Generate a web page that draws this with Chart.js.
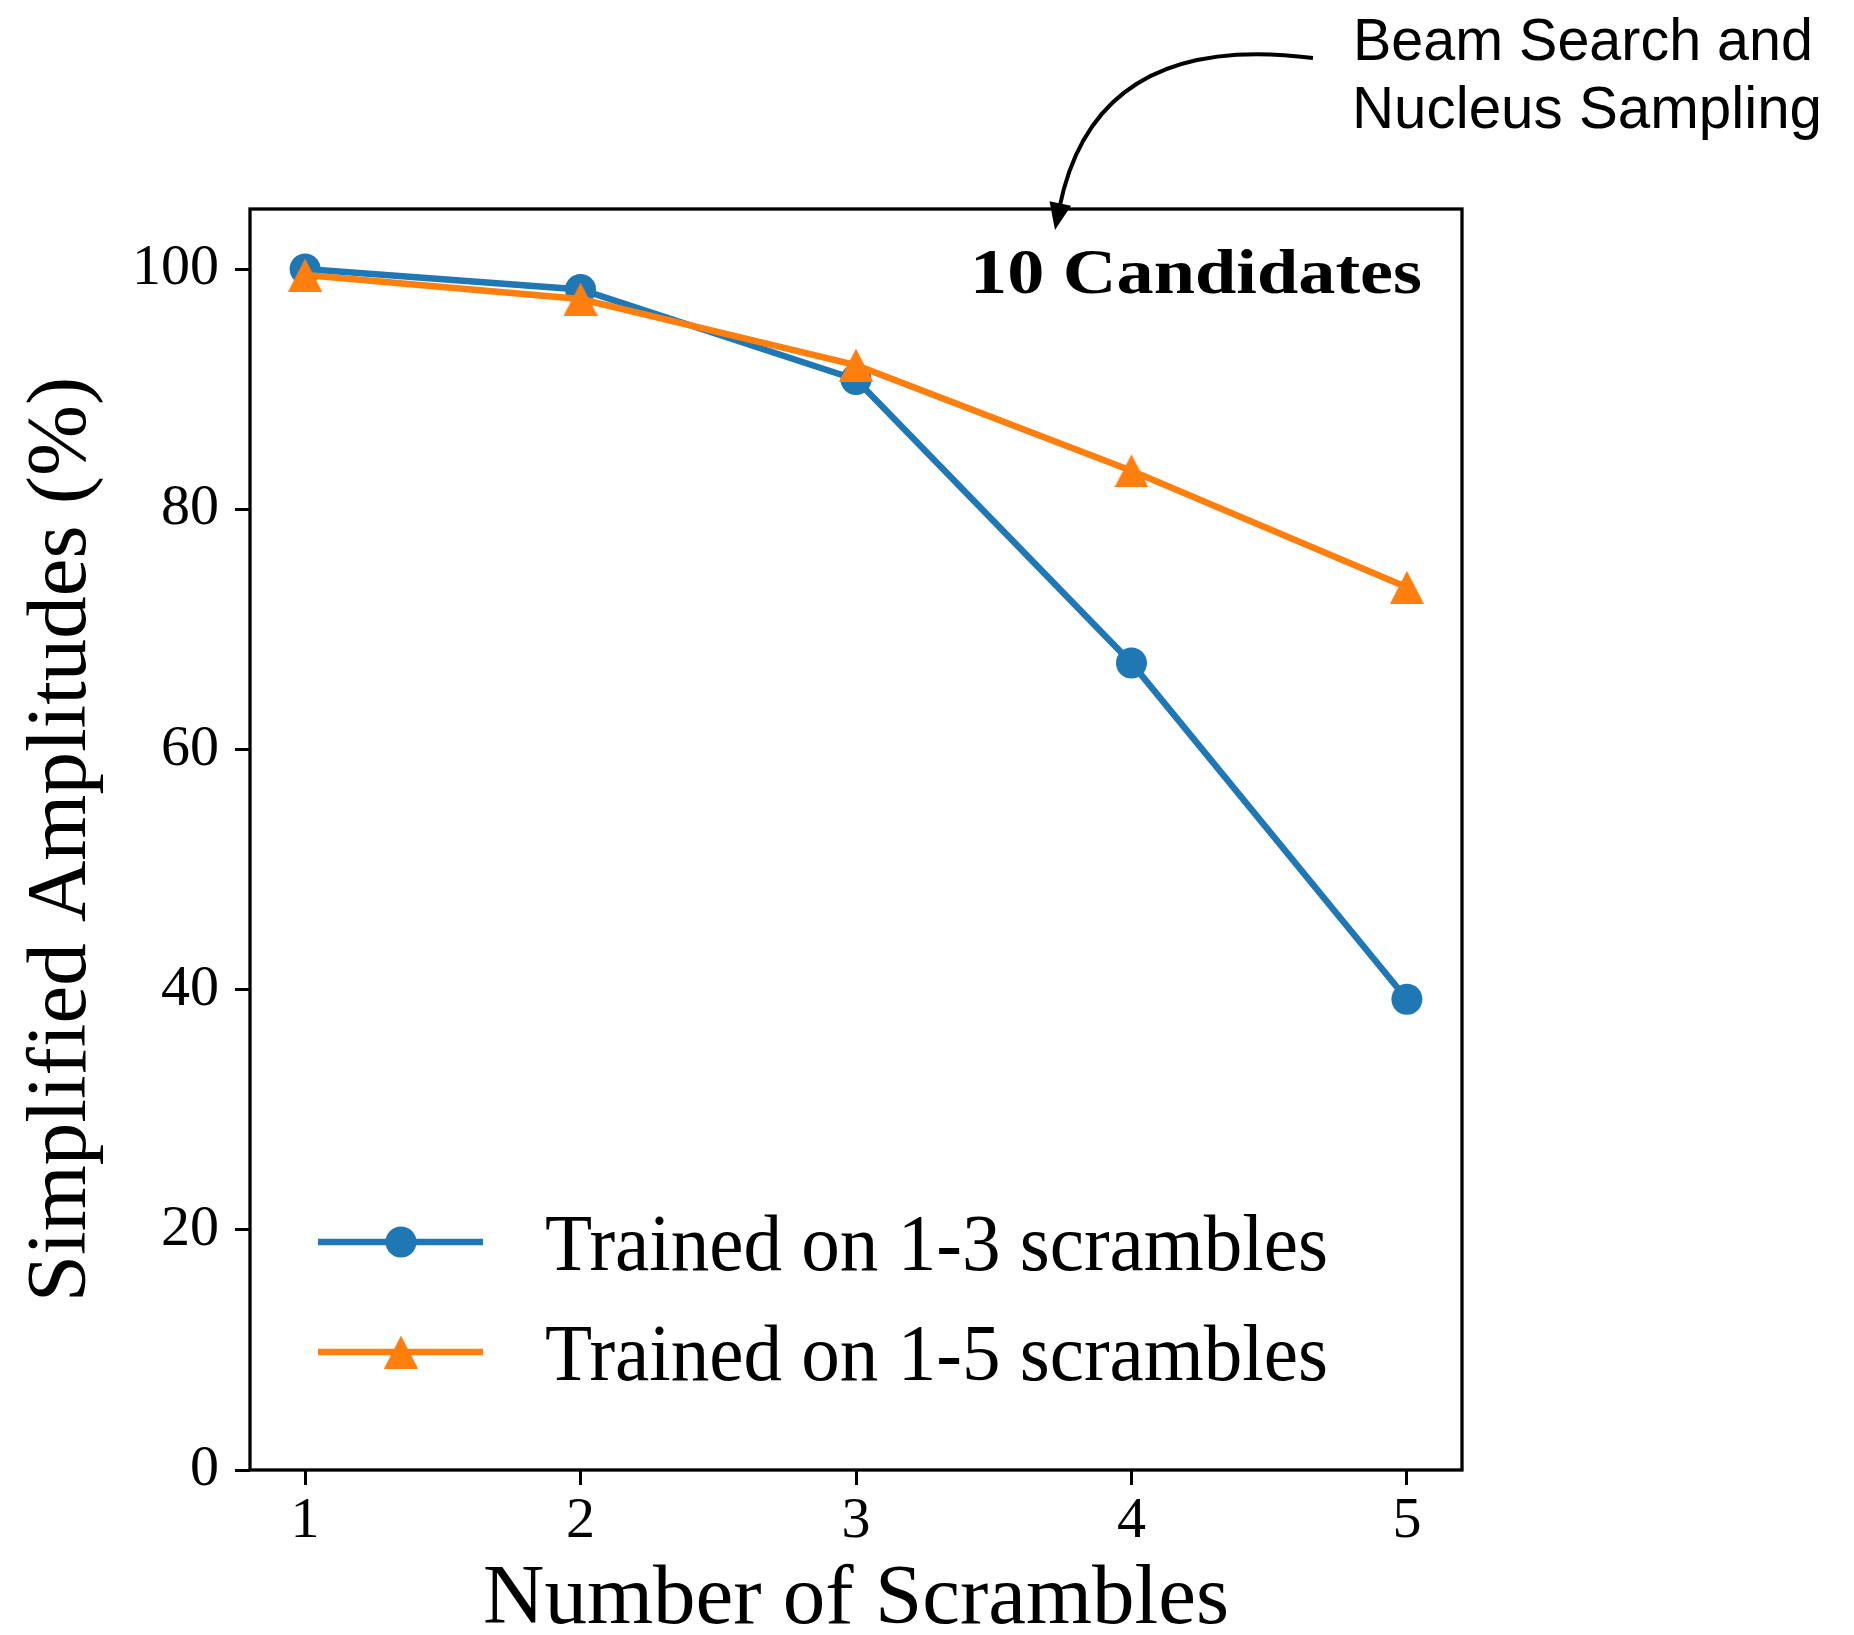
<!DOCTYPE html>
<html>
<head>
<meta charset="utf-8">
<title>Simplified Amplitudes - 10 Candidates</title>
<script src="https://cdn.jsdelivr.net/npm/chart.js"></script>
<style>
  html, body { margin: 0; padding: 0; background: #fff; }
  canvas { display: block; }
</style>
</head>
<body>
<canvas id="grafica" width="1854" height="1635"></canvas>
<script>
var scrambles = [1, 2, 3, 4, 5]
var entrenado13 = [100, 98.3, 90.8, 67.2, 39.2]   // Trained on 1-3 scrambles
var entrenado15 = [99.5, 97.5, 92.0, 83.2, 73.5]  // Trained on 1-5 scrambles
var yTicks = [0, 20, 40, 60, 80, 100]
var nombres = ['Trained on 1-3 scrambles', 'Trained on 1-5 scrambles']
var colores = ['#1f77b4', '#ff7f0e']

var serif = "'Liberation Serif', 'Times New Roman', serif"
var sans = "'Liberation Sans', Arial, sans-serif"

// matplotlib '^' marker as an image (chart.js triangle is equilateral)
function hacerTriangulo(w, h, color){
    var c = document.createElement('canvas')
    c.width = w
    c.height = h
    var g = c.getContext('2d')
    g.fillStyle = color
    g.beginPath()
    g.moveTo(w / 2, 0)
    g.lineTo(w, h)
    g.lineTo(0, h)
    g.closePath()
    g.fill()
    return c
}
var triangulo = hacerTriangulo(34, 33, colores[1])

function puntos(valores){
    return scrambles.map(function(x, i){ return {x: x, y: valores[i]} })
}

// text stretched/squeezed to a given width (Computer Modern is wider than Times)
function textoAjustado(c, texto, x, y, ancho, align){
    var w = c.measureText(texto).width
    var sx = ancho / w
    c.save()
    c.translate(x, y)
    c.scale(sx, 1)
    c.textAlign = align
    c.fillText(texto, 0, 0)
    c.restore()
}

var marco = {
    id: 'marco',
    afterDatasetsDraw: function(chart){
        var c = chart.ctx
        var a = chart.chartArea
        c.save()
        c.strokeStyle = '#000'
        c.lineWidth = 3.3
        c.strokeRect(a.left, a.top, a.right - a.left, a.bottom - a.top)

        // "10 Candidates"
        c.fillStyle = '#000'
        c.font = 'bold 63px ' + serif
        c.textBaseline = 'alphabetic'
        textoAjustado(c, '10 Candidates', a.right - 40, a.top + 84, 452, 'right')

        // leyenda dentro del area, abajo a la izquierda
        var filas = [a.bottom - 228, a.bottom - 118]
        c.font = '80px ' + serif
        for (var i = 0; i < nombres.length; i++){
            var yy = filas[i]
            c.strokeStyle = colores[i]
            c.lineWidth = 6.5
            c.beginPath()
            c.moveTo(a.left + 68, yy)
            c.lineTo(a.left + 233, yy)
            c.stroke()
            if (i == 0){
                c.fillStyle = colores[0]
                c.beginPath()
                c.arc(a.left + 151, yy, 15.5, 0, Math.PI * 2)
                c.fill()
            }else{
                c.drawImage(triangulo, a.left + 151 - triangulo.width / 2, yy - triangulo.height / 2)
            }
            c.fillStyle = '#000'
            textoAjustado(c, nombres[i], a.left + 295, yy + 28, 783, 'left')
        }
        c.restore()
    },
    afterDraw: function(chart){
        // flecha curva + nota
        var c = chart.ctx
        c.save()
        var p0 = {x: 1313, y: 58}
        var cp = {x: 1095, y: 30}
        var tip = {x: 1055, y: 230}
        var dx = tip.x - cp.x, dy = tip.y - cp.y
        var len = Math.sqrt(dx * dx + dy * dy)
        dx = dx / len
        dy = dy / len
        var largo = 27, medio = 11
        var base = {x: tip.x - dx * largo, y: tip.y - dy * largo}
        c.strokeStyle = '#000'
        c.lineWidth = 4
        c.beginPath()
        c.moveTo(p0.x, p0.y)
        c.quadraticCurveTo(cp.x, cp.y, base.x + dx * 4, base.y + dy * 4)
        c.stroke()
        c.fillStyle = '#000'
        c.beginPath()
        c.moveTo(tip.x, tip.y)
        c.lineTo(base.x - dy * medio, base.y + dx * medio)
        c.lineTo(base.x + dy * medio, base.y - dx * medio)
        c.closePath()
        c.fill()

        c.font = '59px ' + sans
        c.textBaseline = 'alphabetic'
        textoAjustado(c, 'Beam Search and', 1353, 60, 460, 'left')
        textoAjustado(c, 'Nucleus Sampling', 1352, 128, 470, 'left')
        c.restore()
    }
}

var gridOpts = {
    drawOnChartArea: false,
    drawTicks: true,
    tickLength: 15,
    tickWidth: 3,
    tickColor: '#000'
}

new Chart(document.getElementById('grafica').getContext('2d'), {
    type: 'line',
    data: {
        datasets: [
            {
                label: nombres[0],
                data: puntos(entrenado13),
                borderColor: colores[0],
                backgroundColor: colores[0],
                borderWidth: 6.5,
                pointStyle: 'circle',
                pointRadius: 15.5,
                pointBorderWidth: 0,
                pointBackgroundColor: colores[0],
                tension: 0,
                order: 1
            },
            {
                label: nombres[1],
                data: puntos(entrenado15),
                borderColor: colores[1],
                backgroundColor: colores[1],
                borderWidth: 6.5,
                pointStyle: triangulo,
                pointRadius: 17,
                pointBorderWidth: 0,
                tension: 0,
                order: 0
            }
        ]
    },
    options: {
        responsive: false,
        devicePixelRatio: 1,
        animation: false,
        events: [],
        layout: { padding: { top: 209, right: 392, left: 0, bottom: 0 } },
        plugins: {
            legend: { display: false },
            tooltip: { enabled: false }
        },
        scales: {
            x: {
                type: 'linear',
                min: 0.8,
                max: 5.2,
                afterBuildTicks: function(axis){
                    axis.ticks = scrambles.map(function(v){ return {value: v} })
                },
                afterFit: function(s){ s.height = 165 },
                grid: gridOpts,
                border: { display: false },
                ticks: {
                    color: '#000',
                    font: { family: serif, size: 58 },
                    padding: 2,
                    autoSkip: false,
                    maxRotation: 0,
                    minRotation: 0
                },
                title: {
                    display: true,
                    text: 'Number of Scrambles',
                    color: '#000',
                    font: { family: serif, size: 85, lineHeight: 0.8 },
                    padding: 0
                }
            },
            y: {
                type: 'linear',
                min: 0,
                max: 105,
                afterBuildTicks: function(axis){
                    axis.ticks = yTicks.map(function(v){ return {value: v} })
                },
                afterFit: function(s){ s.width = 250 },
                grid: gridOpts,
                border: { display: false },
                ticks: {
                    color: '#000',
                    font: { family: serif, size: 58 },
                    padding: 16
                },
                title: {
                    display: true,
                    text: 'Simplified Amplitudes (%)',
                    color: '#000',
                    font: { family: serif, size: 85, lineHeight: 1.2 },
                    padding: { top: 12, bottom: 0 }
                }
            }
        }
    },
    plugins: [marco]
})
</script>
</body>
</html>
